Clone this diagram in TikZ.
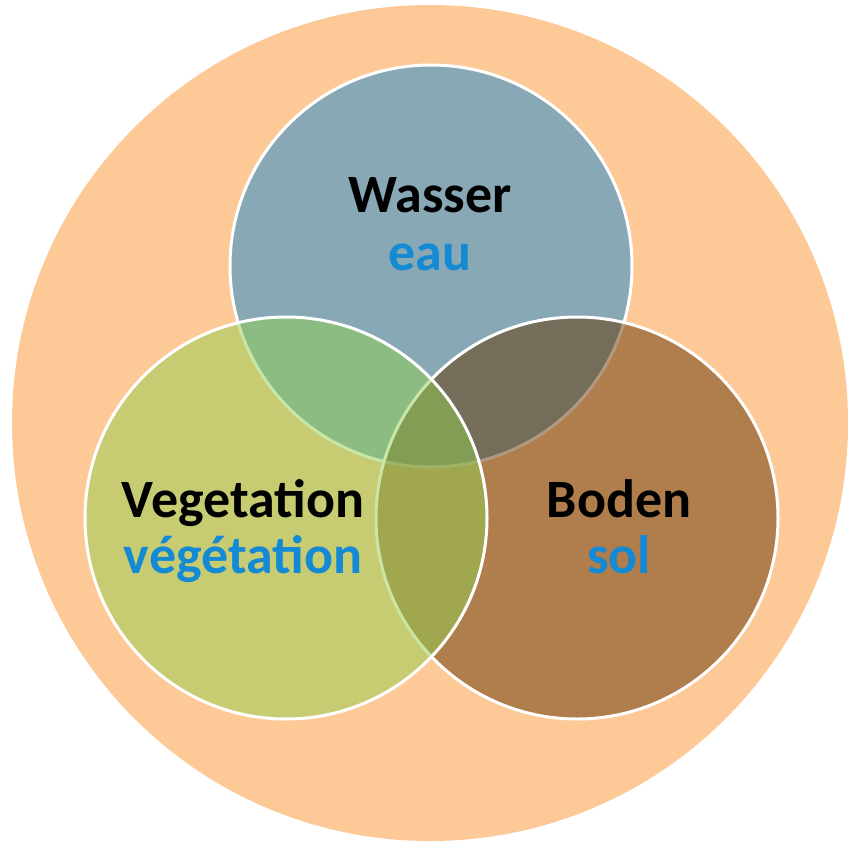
\documentclass[tikz,border=0pt]{standalone}
\usepackage{fontspec}
\setmainfont{Carlito}
\definecolor{peach}{RGB}{253,201,151}
\definecolor{waterc}{RGB}{135,168,180}
\definecolor{vegc}{RGB}{146,208,80}
\definecolor{soilc}{RGB}{99,52,2}
\definecolor{frblue}{RGB}{20,137,212}
\tikzset{
  ring/.style={circle, minimum size=402pt, inner sep=0pt, draw=white, line width=3pt},
  delabel/.style={anchor=base, text=black, font=\fontsize{54}{54}\selectfont\bfseries, inner sep=0pt},
  frlabel/.style={anchor=base, text=frblue, font=\fontsize{54}{54}\selectfont\bfseries, inner sep=0pt}
}
\begin{document}
\begin{tikzpicture}[x=1pt,y=-1pt]
\useasboundingbox (0,0) rectangle (848,843);
\node (outer) [circle, minimum size=836pt, inner sep=0pt, fill=peach] at (430,423) {};
\node (wasser) [ring, fill=waterc] at (431,266) {};
\node (boden) [ring, fill=soilc, fill opacity=0.5, draw opacity=1] at (577,518) {};
\node (veg) [ring, fill=vegc, fill opacity=0.5, draw opacity=1] at (286,518) {};
\node (tw) [delabel] at (430,212) {Wasser};
\node (tweau) [frlabel] at (430,270) {eau};
\node (tv) [delabel] at (243,517) {Vegetation};
\node (tvfr) [frlabel] at (243,573) {végétation};
\node (tb) [delabel] at (619,517) {Boden};
\node (tbfr) [frlabel] at (619,573) {sol};
\end{tikzpicture}
\end{document}
